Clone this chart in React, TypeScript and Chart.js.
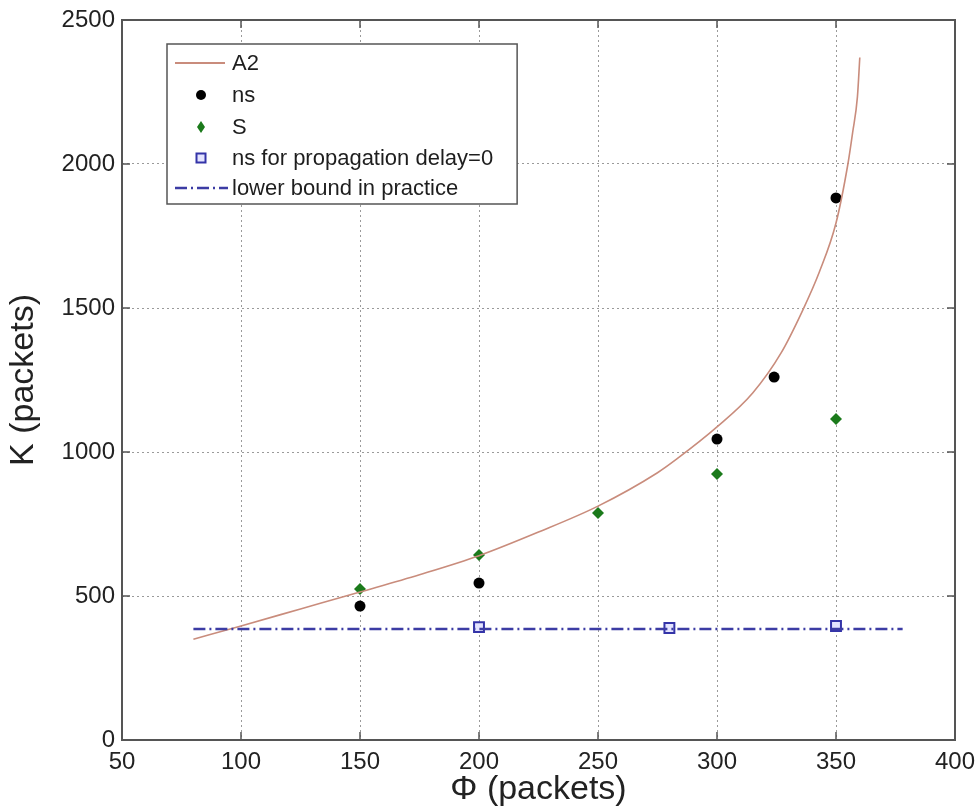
import React, { useEffect, useRef } from "react";
import { Chart, registerables } from "chart.js";
Chart.register(...registerables);

// A2 curve
const phiA2 = [80, 100, 125, 150, 175, 200, 225, 250, 275, 283, 300, 315, 327, 336, 343, 350, 355, 357, 359, 360];
const kA2 = [350, 396, 455, 514, 574, 640, 722, 812, 928, 975, 1087, 1205, 1345, 1492, 1625, 1795, 2000, 2110, 2233, 2370];
// ns simulation points
const phiNs = [150, 200, 300, 324, 350];
const kNs = [465, 545, 1045, 1260, 1882];
// S points
const phiS = [150, 200, 250, 300, 350];
const kS = [524, 642, 788, 924, 1115];
// ns for propagation delay = 0
const phiNs0 = [200, 280, 350];
const kNs0 = [392, 389, 396];
// lower bound in practice
const phiLower = [80, 378];
const kLower = [385, 385];

const xTickValues = [50, 100, 150, 200, 250, 300, 350, 400];
const yTickValues = [0, 500, 1000, 1500, 2000, 2500];
const legendLabels = ["A2", "ns", "S", "ns for propagation delay=0", "lower bound in practice"];
const xTitle = "\u03A6 (packets)";
const yTitle = "K (packets)";

const FONT = "'Liberation Sans', Arial, Helvetica, sans-serif";
const A2_COLOR = "#c98c7c";
const NS_COLOR = "#000000";
const S_COLOR = "#1b7a1b";
const SQ_COLOR = "#3434a8";
const LB_COLOR = "#3c3ca4";
const BOX_COLOR = "#555555";

const zip = (xs: number[], ys: number[]) => xs.map((x, i) => ({ x, y: ys[i] }));

export default function App() {
  const ref = useRef<HTMLCanvasElement | null>(null);
  useEffect(() => {
    const canvas = ref.current;
    if (!canvas) return;

    const framePlugin = {
      id: "frame",
      afterDatasetsDraw(chart: any) {
        const { ctx, chartArea: a, scales } = chart;
        const xs = scales.x;
        const ys = scales.y;
        ctx.save();
        // inward ticks
        ctx.strokeStyle = BOX_COLOR;
        ctx.lineWidth = 1.5;
        const tl = 8;
        ctx.beginPath();
        xTickValues.forEach((v) => {
          const px = xs.getPixelForValue(v);
          ctx.moveTo(px, a.bottom);
          ctx.lineTo(px, a.bottom - tl);
          ctx.moveTo(px, a.top);
          ctx.lineTo(px, a.top + tl);
        });
        yTickValues.forEach((v) => {
          const py = ys.getPixelForValue(v);
          ctx.moveTo(a.left, py);
          ctx.lineTo(a.left + tl, py);
          ctx.moveTo(a.right, py);
          ctx.lineTo(a.right - tl, py);
        });
        ctx.stroke();
        // box
        ctx.lineWidth = 2;
        ctx.strokeRect(a.left, a.top, a.right - a.left, a.bottom - a.top);

        // legend
        const lx = 167;
        const ly = 44;
        const textX = 232;
        const rows = [63, 95, 127, 158, 188];
        ctx.font = `22px ${FONT}`;
        let maxW = 0;
        legendLabels.forEach((t) => {
          maxW = Math.max(maxW, ctx.measureText(t).width);
        });
        const lw = textX + maxW + 24 - lx;
        const lh = 160;
        ctx.fillStyle = "#ffffff";
        ctx.fillRect(lx, ly, lw, lh);
        ctx.lineWidth = 1.5;
        ctx.strokeStyle = BOX_COLOR;
        ctx.strokeRect(lx, ly, lw, lh);

        // A2 line sample
        ctx.strokeStyle = A2_COLOR;
        ctx.lineWidth = 1.8;
        ctx.beginPath();
        ctx.moveTo(175, rows[0]);
        ctx.lineTo(225, rows[0]);
        ctx.stroke();
        // ns dot
        ctx.fillStyle = NS_COLOR;
        ctx.beginPath();
        ctx.arc(201, rows[1], 5, 0, Math.PI * 2);
        ctx.fill();
        // S diamond
        ctx.fillStyle = S_COLOR;
        ctx.beginPath();
        ctx.moveTo(201, rows[2] - 6);
        ctx.lineTo(205, rows[2]);
        ctx.lineTo(201, rows[2] + 6);
        ctx.lineTo(197, rows[2]);
        ctx.closePath();
        ctx.fill();
        // square
        ctx.strokeStyle = SQ_COLOR;
        ctx.fillStyle = "#e4e4ff";
        ctx.lineWidth = 2;
        ctx.fillRect(196.5, rows[3] - 4.5, 9, 9);
        ctx.strokeRect(196.5, rows[3] - 4.5, 9, 9);
        // dash-dot
        ctx.strokeStyle = LB_COLOR;
        ctx.lineWidth = 2.5;
        ctx.setLineDash([12, 4, 2, 4]);
        ctx.beginPath();
        ctx.moveTo(175, rows[4]);
        ctx.lineTo(228, rows[4]);
        ctx.stroke();
        ctx.setLineDash([]);

        ctx.fillStyle = "#1e1e1e";
        ctx.textBaseline = "middle";
        ctx.textAlign = "left";
        legendLabels.forEach((t, i) => {
          ctx.fillText(t, textX, rows[i] + 1);
        });
        ctx.restore();
      },
    };

    const chart = new Chart(canvas, {
      type: "scatter",
      data: {
        datasets: [
          {
            label: legendLabels[4],
            data: zip(phiLower, kLower),
            showLine: true,
            borderColor: LB_COLOR,
            borderWidth: 2.5,
            borderDash: [12, 4, 2, 4],
            pointRadius: 0,
          },
          {
            label: legendLabels[0],
            data: zip(phiA2, kA2),
            showLine: true,
            borderColor: A2_COLOR,
            borderWidth: 1.6,
            pointRadius: 0,
            cubicInterpolationMode: "monotone",
          },
          {
            label: legendLabels[1],
            data: zip(phiNs, kNs),
            pointStyle: "circle",
            pointRadius: 5.5,
            backgroundColor: NS_COLOR,
            borderColor: NS_COLOR,
            borderWidth: 0,
          },
          {
            label: legendLabels[2],
            data: zip(phiS, kS),
            pointStyle: "rectRot",
            pointRadius: 6,
            backgroundColor: S_COLOR,
            borderColor: S_COLOR,
            borderWidth: 0,
          },
          {
            label: legendLabels[3],
            data: zip(phiNs0, kNs0),
            pointStyle: "rect",
            pointRadius: 7,
            backgroundColor: "#e4e4ff",
            borderColor: SQ_COLOR,
            borderWidth: 2,
          },
        ],
      },
      options: {
        animation: false,
        responsive: false,
        devicePixelRatio: 1,
        layout: { padding: { top: 20, right: 25, left: 0, bottom: 0 } },
        plugins: {
          legend: { display: false },
          tooltip: { enabled: false },
        },
        scales: {
          x: {
            type: "linear",
            min: 50,
            max: 400,
            afterBuildTicks: (s: any) => {
              s.ticks = xTickValues.map((v) => ({ value: v }));
            },
            afterFit: (s: any) => {
              s.height = 71;
              s.paddingLeft = 0;
              s.paddingRight = 0;
            },
            grid: { color: "#9a9a9a", lineWidth: 1, drawTicks: false },
            border: { display: false, dash: [2, 3] },
            ticks: {
              color: "#222",
              font: { family: FONT, size: 24 },
              padding: 8,
              maxRotation: 0,
              callback: (v: any) => String(v),
            },
            title: {
              display: true,
              text: xTitle,
              color: "#222",
              font: { family: FONT, size: 34, lineHeight: 1 },
              padding: { top: 0, bottom: 4 },
            },
          },
          y: {
            type: "linear",
            min: 0,
            max: 2500,
            afterBuildTicks: (s: any) => {
              s.ticks = yTickValues.map((v) => ({ value: v }));
            },
            afterFit: (s: any) => {
              s.width = 122;
              s.paddingTop = 0;
              s.paddingBottom = 0;
            },
            grid: { color: "#9a9a9a", lineWidth: 1, drawTicks: false },
            border: { display: false, dash: [2, 3] },
            ticks: {
              color: "#222",
              font: { family: FONT, size: 24 },
              padding: 7,
              callback: (v: any) => String(v),
            },
            title: {
              display: true,
              text: yTitle,
              color: "#222",
              font: { family: FONT, size: 34, lineHeight: 1 },
              padding: { top: 7, bottom: 0 },
            },
          },
        },
      },
      plugins: [framePlugin],
    } as any);
    return () => chart.destroy();
  }, []);

  return (
    <div style={{ position: "absolute", left: 0, top: 0, width: 980, height: 811 }}>
      <canvas ref={ref} width={980} height={811} style={{ display: "block", width: 980, height: 811 }} />
    </div>
  );
}
